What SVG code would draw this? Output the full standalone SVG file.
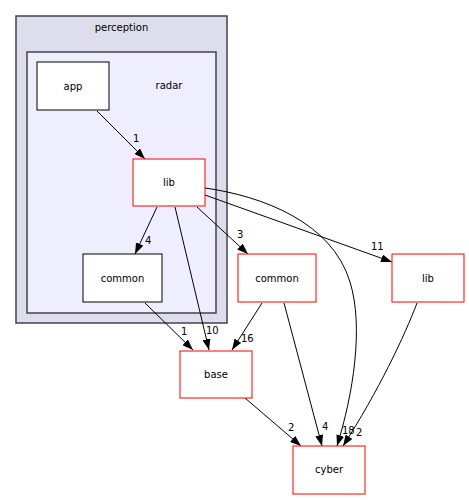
<svg xmlns="http://www.w3.org/2000/svg" width="469" height="500" viewBox="0 0 469 500">
<defs>
<marker id="ah" markerUnits="userSpaceOnUse" markerWidth="11" markerHeight="8" refX="11" refY="4" orient="auto">
<path d="M0,0 L11,4 L0,8 z" fill="#000"/>
</marker>
<style>
text{font-family:"DejaVu Sans",sans-serif;font-size:10px;fill:#000}
.n{text-anchor:middle}
.bn{fill:#fff;stroke:#000;stroke-width:1}
.rn{fill:#fff;stroke:#ff0000;stroke-width:1}
.e{fill:none;stroke:#000;stroke-width:1;marker-end:url(#ah)}
</style>
</defs>
<rect width="469" height="500" fill="#fff"/>
<g id="cluster_perception">
<rect x="16" y="16" width="211" height="307" fill="#ddddee" stroke="#444" stroke-width="1.5"/>
<text class="n" x="121.5" y="31">perception</text>
</g>
<g id="cluster_radar">
<rect x="27" y="52" width="189" height="261" fill="#eeeeff" stroke="#444" stroke-width="1.5"/>
<text class="n" x="169" y="89">radar</text>
</g>
<g id="edges">
<path class="e" d="M97,111 L145,159"/>
<text x="133" y="142">1</text>
<path class="e" d="M157,207 L135,254"/>
<text x="145" y="244">4</text>
<path class="e" d="M175,207 L209,350"/>
<text x="206" y="334">10</text>
<path class="e" d="M145,303 L193,350"/>
<text x="181" y="335">1</text>
<path class="e" d="M197,207 L248,254"/>
<text x="237" y="238">3</text>
<path class="e" d="M205,195 L392,262"/>
<text x="371" y="250">11</text>
<path class="e" d="M205,188 C262,196 332,222 350,282 C364,327 353,395 337,446"/>
<text x="342" y="434">18</text>
<path class="e" d="M262,303 L232,350"/>
<text x="241" y="342">16</text>
<path class="e" d="M284,303 L322,446"/>
<text x="322" y="430">4</text>
<path class="e" d="M417,303 C405,335 378,392 343,446"/>
<text x="356" y="436">2</text>
<path class="e" d="M245,398 L301,446"/>
<text x="288" y="431">2</text>
</g>
<g id="node_app">
<rect class="bn" x="37" y="62" width="72" height="48"/>
<text class="n" x="73" y="89.5">app</text>
</g>
<g id="node_radar_lib">
<rect class="rn" x="133" y="159" width="72" height="47"/>
<text class="n" x="169" y="185.5">lib</text>
</g>
<g id="node_radar_common">
<rect class="bn" x="83" y="254" width="79" height="48"/>
<text class="n" x="122.5" y="281.5">common</text>
</g>
<g id="node_common">
<rect class="rn" x="238" y="254" width="78" height="48"/>
<text class="n" x="277" y="281.5">common</text>
</g>
<g id="node_lib">
<rect class="rn" x="392" y="254" width="72" height="48"/>
<text class="n" x="428" y="281.5">lib</text>
</g>
<g id="node_base">
<rect class="rn" x="180" y="351" width="72" height="47"/>
<text class="n" x="216" y="377.5">base</text>
</g>
<g id="node_cyber">
<rect class="rn" x="293" y="446" width="72" height="48"/>
<text class="n" x="329" y="473">cyber</text>
</g>
</svg>
